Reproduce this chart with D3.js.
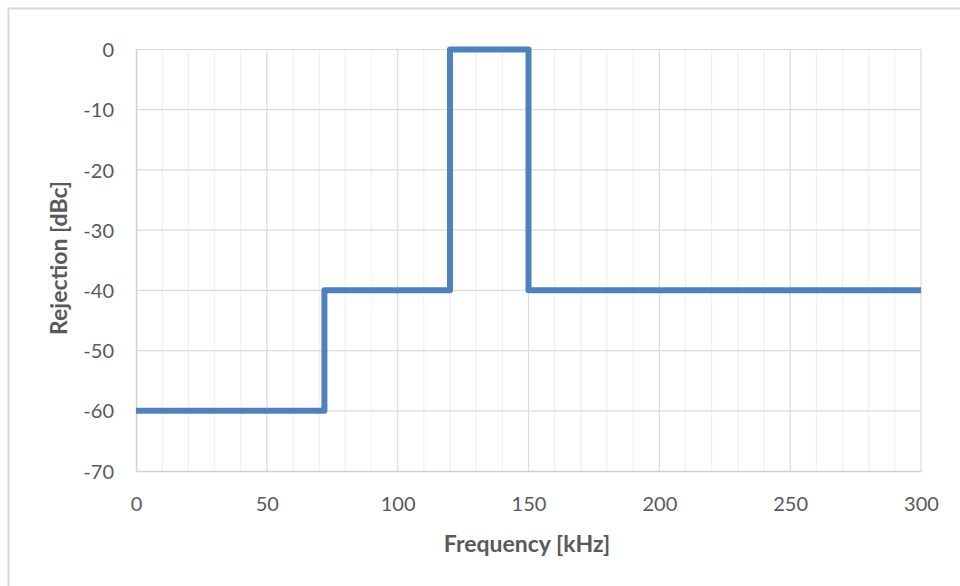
<!DOCTYPE html>
<html><head><meta charset="utf-8">
<script src="https://cdn.jsdelivr.net/npm/d3@7"></script>
<style>html,body{margin:0;padding:0;background:#fff;}svg{display:block;}</style>
</head><body>
<svg id="c" width="960" height="586"></svg>
<script>
// Step response: frequency breakpoints (kHz) and rejection levels (dBc)
const freqs = [0, 72, 72, 120, 120, 150, 150, 300];
const rejection = [-60, -60, -40, -40, 0, 0, -40, -40];
const xTicks = [0, 50, 100, 150, 200, 250, 300];
const xMinor = [10,20,30,40,60,70,80,90,110,120,130,140,160,170,180,190,210,220,230,240,260,270,280,290];
const yTicks = [0, -10, -20, -30, -40, -50, -60, -70];
const xTitle = "Frequency [kHz]";
const yTitle = "Rejection [dBc]";

const svg = d3.select("#c");
const L = 136, R = 921, T = 49.5, B = 471;
const x = d3.scaleLinear().domain([0, 300]).range([L, R]);
const y = d3.scaleLinear().domain([-70, 0]).range([B, T]);
const font = "Lato, 'Open Sans', sans-serif";

// outer frame
svg.append("path").attr("d", `M8.5,586 V8.5 H960`).attr("fill","none")
  .attr("stroke","#d9d9d9").attr("stroke-width",2);

// minor vertical grid
svg.append("g").selectAll("line").data(xMinor).join("line")
  .attr("x1", d=>x(d)).attr("x2", d=>x(d)).attr("y1", T).attr("y2", B)
  .attr("stroke","#f0f0f0").attr("stroke-width",1.2);
// major vertical grid
svg.append("g").selectAll("line").data(xTicks.slice(1)).join("line")
  .attr("x1", d=>x(d)).attr("x2", d=>x(d)).attr("y1", T).attr("y2", B)
  .attr("stroke","#dcdcdc").attr("stroke-width",1.2);
// horizontal grid
svg.append("g").selectAll("line").data(yTicks.slice(0,-1)).join("line")
  .attr("x1", L).attr("x2", R).attr("y1", d=>y(d)).attr("y2", d=>y(d))
  .attr("stroke","#dcdcdc").attr("stroke-width",1.2);

// axes via d3 axis generators (styled)
const xAxis = svg.append("g").attr("transform",`translate(0,${B})`)
  .call(d3.axisBottom(x).tickValues(xTicks).tickSize(0).tickPadding(0).tickFormat(d3.format("d")));
xAxis.select(".domain").attr("stroke","#d0d0d0").attr("stroke-width",1.5);
xAxis.selectAll("text").attr("font-family",font).attr("font-size",20).attr("fill","#595959")
  .attr("y",0).attr("dy",0).attr("transform","translate(0,40)");

const yAxis = svg.append("g").attr("transform",`translate(${L},0)`)
  .call(d3.axisLeft(y).tickValues(yTicks).tickSize(0).tickPadding(0).tickFormat(d3.format("d")));
yAxis.select(".domain").attr("stroke","#d0d0d0").attr("stroke-width",1.5);
yAxis.selectAll("text").attr("font-family",font).attr("font-size",20).attr("fill","#595959")
  .attr("x",-22).attr("dy","0.36em");
yAxis.selectAll("text").text(d => d < 0 ? "-" + Math.abs(d) : d);

// line
const data = freqs.map((f,i)=>({f, r: rejection[i]}));
svg.append("path").datum(data)
  .attr("d", d3.line().x(d=>x(d.f)).y(d=>y(d.r)))
  .attr("fill","none").attr("stroke","#4f81bd").attr("stroke-width",6)
  .attr("stroke-linejoin","round").attr("stroke-linecap","butt");

// titles
svg.append("text").attr("x",527).attr("y",552).attr("text-anchor","middle")
  .attr("font-family",font).attr("font-weight","bold").attr("font-size",23)
  .attr("fill","#595959").text(xTitle);
svg.append("text").attr("transform","translate(67,258) rotate(-90)").attr("text-anchor","middle")
  .attr("font-family",font).attr("font-weight","bold").attr("font-size",23)
  .attr("fill","#595959").text(yTitle);
</script>
</body></html>
